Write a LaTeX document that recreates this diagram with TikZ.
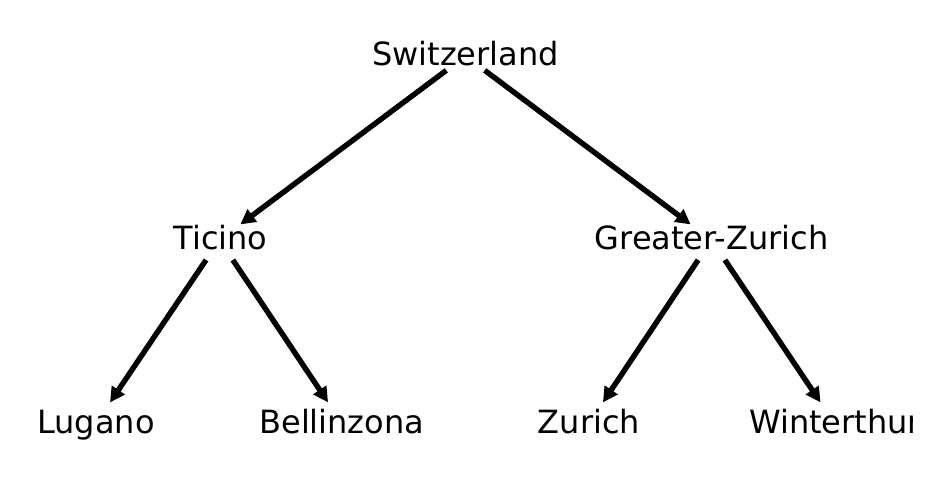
\documentclass[tikz,border=0pt]{standalone}
\usepackage{fontspec}
\setmainfont{DejaVu Sans}
\usetikzlibrary{arrows.meta}
\begin{document}
\begin{tikzpicture}[x=1pt,y=-1pt,
  lbl/.style={inner sep=0pt,anchor=base,font=\fontsize{32}{38}\selectfont},
  edge/.style={line width=5.4pt,-{Triangle[length=15pt,width=15pt]},shorten <=24pt,shorten >=26pt}]
\useasboundingbox (0,0) rectangle (931,481);
% node centres
\coordinate (cSw) at (465.5,56);
\coordinate (cTi) at (219.5,240);
\coordinate (cGZ) at (711.5,240);
\coordinate (cLu) at (95.5,424);
\coordinate (cBe) at (342.5,424);
\coordinate (cZu) at (588.5,424);
\coordinate (cWi) at (835,424);
\begin{scope}
\clip (0,0) rectangle (912,481);
\node[lbl] (sw) at (465.5,66) {Switzerland};
\node[lbl] (ti) at (220.5,249.5) {Ticino};
\node[lbl] (gz) at (711.5,249.5) {Greater-Zurich};
\node[lbl] (lu) at (96,433) {Lugano};
\node[lbl] (be) at (341.8,433) {Bellinzona};
\node[lbl] (zu) at (589,433) {Zurich};
\node[lbl] (wi) at (835,433) {Winterthur};
\end{scope}
\draw[edge] (cSw) -- (cTi);
\draw[edge] (cSw) -- (cGZ);
\draw[edge] (cTi) -- (cLu);
\draw[edge] (cTi) -- (cBe);
\draw[edge] (cGZ) -- (cZu);
\draw[edge] (cGZ) -- (cWi);
\end{tikzpicture}
\end{document}
